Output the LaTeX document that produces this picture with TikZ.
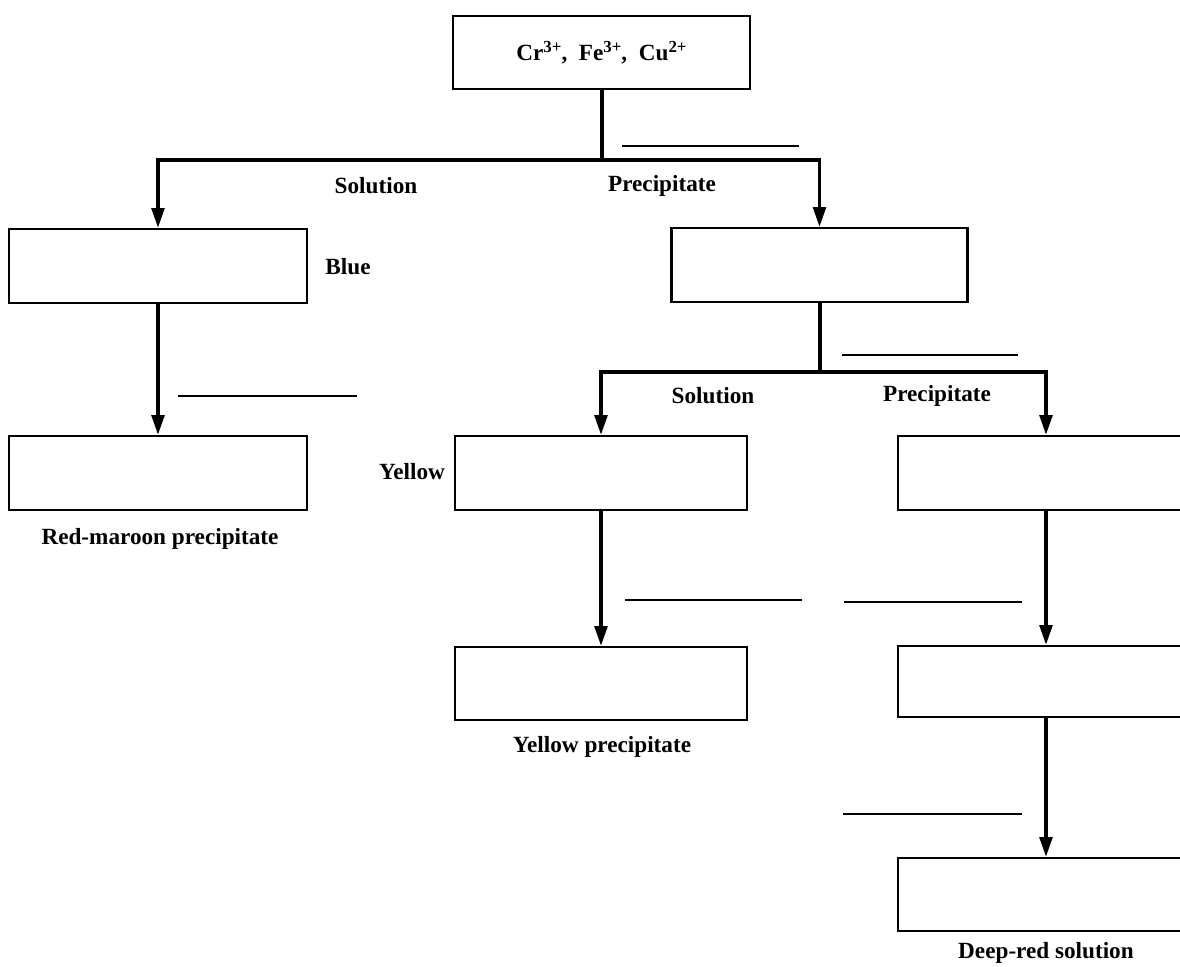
\documentclass[tikz,border=0pt]{standalone}
\usepackage{fontspec}
\setmainfont{Liberation Serif}
\usetikzlibrary{arrows.meta}
\begin{document}
\begin{tikzpicture}[x=0.025cm,y=-0.025cm,
  box/.style={draw,line width=1.6pt,minimum width=7.45cm,minimum height=1.85cm,inner sep=0pt},
  conn/.style={line width=2.4pt},
  arr/.style={line width=2.4pt,line join=miter,-{Triangle[length=14pt,width=9pt]}},
  blank/.style={line width=1.4pt},
  lab/.style={font=\bfseries\fontsize{16.5}{19}\selectfont,inner sep=0pt}]
\clip (0,0) rectangle (1180,967);
\fill[white] (0,0) rectangle (1180,967);
% boxes
\node[box,minimum width=7.425cm,minimum height=1.825cm,font=\bfseries\fontsize{16.5}{19}\selectfont] (top) at (601.5,52.5) {Cr{\fontsize{12}{12}\selectfont\raisebox{0.45em}{3+}},\ \ Fe{\fontsize{12}{12}\selectfont\raisebox{0.45em}{3+}},\ \ Cu{\fontsize{12}{12}\selectfont\raisebox{0.45em}{2+}}};
\node[box] (l1) at (158,266) {};
\node[box] (l2) at (158,473) {};
\node[box,minimum width=7.4cm] (p1) at (819.5,265) {};
\node[box,minimum width=7.3cm] (y1) at (601,473) {};
\node[box,minimum width=7.3cm,minimum height=1.825cm] (y2) at (601,683.5) {};
\node[box,minimum width=7.4cm] (r1) at (1046,473) {};
\node[box,minimum width=7.4cm,minimum height=1.775cm] (r2) at (1046,681.5) {};
\node[box,minimum width=7.4cm,minimum height=1.825cm] (r3) at (1046,894.5) {};
% connectors
\coordinate (s1) at (602,160);
\coordinate (s2) at (820,372);
\draw[conn] (top.south -| s1) -- (s1);
\draw[arr] (s1) -| (l1.north);
\draw[arr] (s1) -| (p1.north);
\draw[arr] (l1.south) -- (l2.north);
\draw[conn] (p1.south -| s2) -- (s2);
\draw[arr] (s2) -| (y1.north);
\draw[arr] (s2) -| (r1.north);
\draw[arr] (y1.south) -- (y2.north);
\draw[arr] (r1.south) -- (r2.north);
\draw[arr] (r2.south) -- (r3.north);
% blank lines
\coordinate (b1a) at (622,146); \coordinate (b1b) at (799,146);
\coordinate (b2a) at (178,396); \coordinate (b2b) at (357,396);
\coordinate (b3a) at (842,355); \coordinate (b3b) at (1018,355);
\coordinate (b4a) at (625,600); \coordinate (b4b) at (802,600);
\coordinate (b5a) at (844,602); \coordinate (b5b) at (1022,602);
\coordinate (b6a) at (843,814); \coordinate (b6b) at (1022,814);
\draw[blank] (b1a) -- (b1b);
\draw[blank] (b2a) -- (b2b);
\draw[blank] (b3a) -- (b3b);
\draw[blank] (b4a) -- (b4b);
\draw[blank] (b5a) -- (b5b);
\draw[blank] (b6a) -- (b6b);
% labels
\node[lab] (t1) at (376,186) {Solution};
\node[lab] (t2) at (662,186) {Precipitate};
\node[lab] (t3) at (348,267) {Blue};
\node[lab] (t4) at (713,396) {Solution};
\node[lab] (t5) at (937,396) {Precipitate};
\node[lab] (t6) at (412,472) {Yellow};
\node[lab] (t7) at (160,539) {Red-maroon precipitate};
\node[lab] (t8) at (602,747) {Yellow precipitate};
\node[lab] (t9) at (1046,953) {Deep-red solution};
\end{tikzpicture}
\end{document}
